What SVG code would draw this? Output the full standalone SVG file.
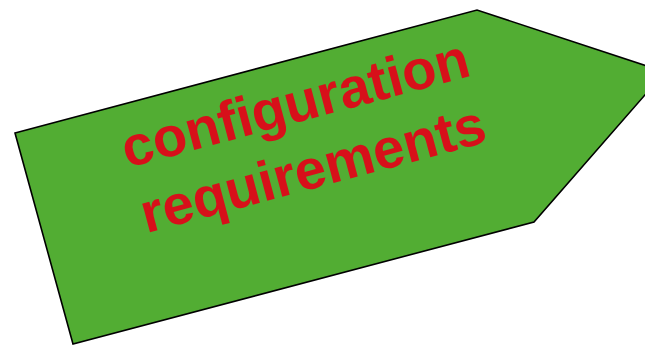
<svg xmlns="http://www.w3.org/2000/svg" width="645" height="345" viewBox="0 0 645 345">
<style>
.shape{fill:#52ad33;stroke:#000;stroke-width:1.6;stroke-linejoin:miter}
.lbl{font-family:"Liberation Sans",Arial,sans-serif;font-weight:bold;font-size:56px;fill:#d7101a;text-anchor:middle}
</style>
<rect width="645" height="345" fill="#fff"/>
<g id="node-config">
<polygon class="shape" points="15,133 477,10 665,72 534,222 73,344"/>
<g transform="rotate(-15 305 140)">
<text class="lbl" x="305" y="121">configuration</text>
<text class="lbl" x="305" y="189">requirements</text>
</g>
</g>
<g id="connectors"/>
</svg>
